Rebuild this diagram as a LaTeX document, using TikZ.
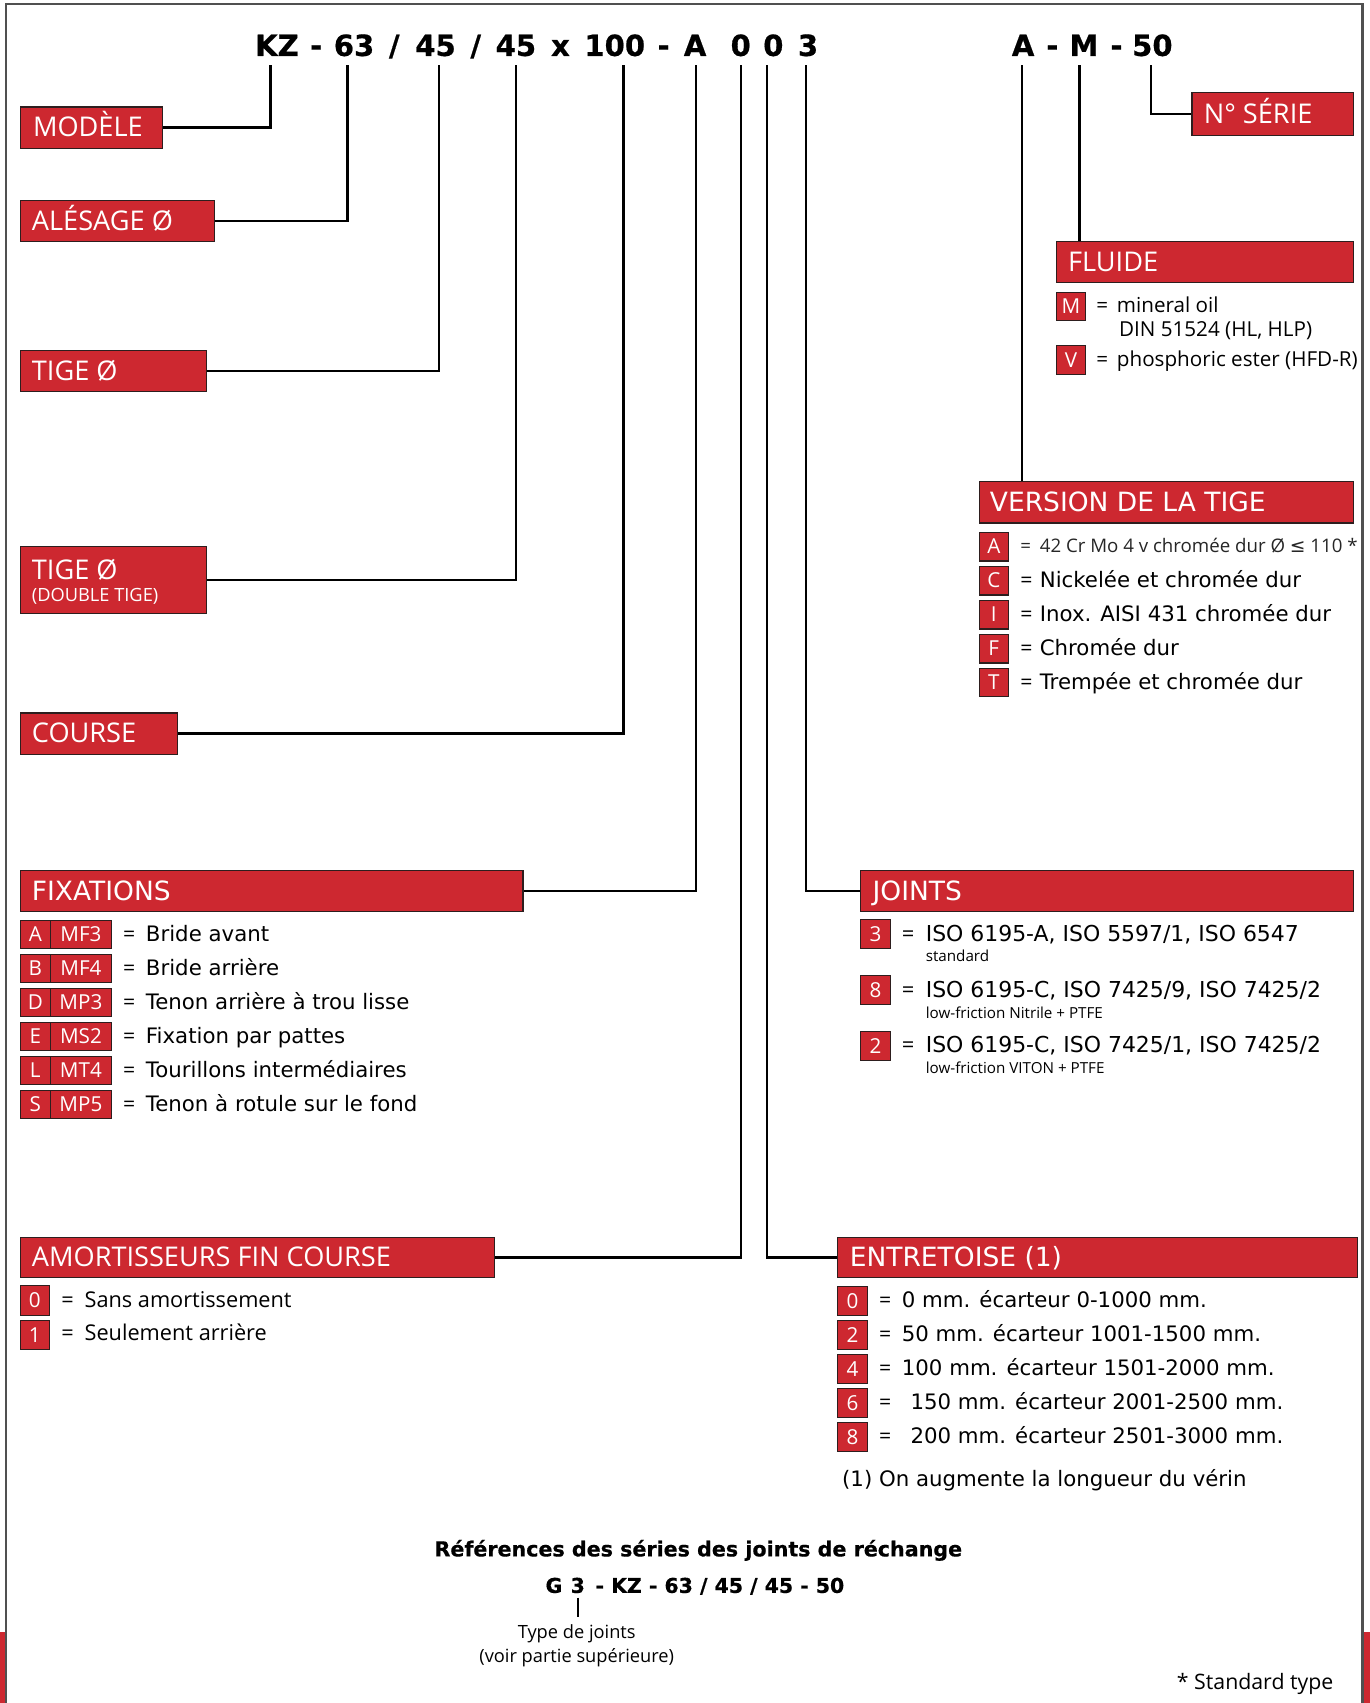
\documentclass[tikz,border=0pt]{standalone}
\usepackage{fontspec}
\setmainfont{Open Sans}
\newfontfamily\dvs{DejaVu Sans}
\newfontfamily\dvh{DejaVu Sans}[BoldFeatures={FakeBold=0.6}]
\definecolor{kred}{RGB}{205,40,48}
\definecolor{kline}{RGB}{45,30,30}
\definecolor{framec}{RGB}{80,80,80}
\newcommand\kfs[1]{\fontsize{#1}{#1}\selectfont}
\newcommand\eqw[1]{\makebox[#1][l]{\normalfont=}}
\begin{document}
\begin{tikzpicture}[x=0.5pt,y=-0.5pt,
  conn/.style={line width=1.1pt,draw=black},
  hbox/.style={draw=kline,line width=0.5pt,fill=kred,anchor=north west,inner sep=0pt},
  htxt/.style={anchor=base west,inner sep=0pt,text=white,font=\kfs{12.5pt}},
  htxe/.style={anchor=base west,inner sep=0pt,text=white,font=\dvs\kfs{12.2pt}},
  kbox/.style={draw=kline,line width=0.5pt,fill=kred,anchor=north west,inner sep=0pt,text=white,font=\kfs{9.5pt},minimum width=13.5pt,minimum height=13.25pt},
  etxt/.style={anchor=base west,inner sep=0pt,font=\dvs\kfs{9.8pt}},
  ftxt/.style={anchor=base west,inner sep=0pt,font=\kfs{9.5pt}},
  ttok/.style={anchor=base,inner sep=0pt,font=\dvh\bfseries\kfs{13.4pt}},
  gtok/.style={anchor=base,inner sep=0pt,font=\dvh\bfseries\kfs{9.4pt}},
  ntxt/.style={anchor=base,inner sep=0pt,font=\kfs{8.4pt}}]
\useasboundingbox (0,0) rectangle (1261,1568);
% frame
\fill[kred] (0,1503) rectangle (4.6,1568);
\fill[kred] (1255.6,1503) rectangle (1261,1568);
\draw[framec,line width=1.1pt] (5.6,1568) -- (5.6,3.6) -- (1254.4,3.6) -- (1254.4,1568);
% title tokens
\node[ttok] (tKZ) at (255,51.5) {KZ};
\node[ttok] (tD1) at (291,51.5) {-};
\node[ttok] (t63) at (326,51.5) {63};
\node[ttok] (tS1) at (363,51.5) {/};
\node[ttok] (t45a) at (401,51.5) {45};
\node[ttok] (tS2) at (438,51.5) {/};
\node[ttok] (t45b) at (475,51.5) {45};
\node[ttok] (tX) at (516,51.5) {x};
\node[ttok] (t100) at (566,51.5) {100};
\node[ttok] (tD2) at (611,51.5) {-};
\node[ttok] (tA) at (640,51.5) {A};
\node[ttok] (t0a) at (682,51.5) {0};
\node[ttok] (t0b) at (712,51.5) {0};
\node[ttok] (t3) at (744,51.5) {3};
\node[ttok] (vA) at (942,51.5) {A};
\node[ttok] (vD1) at (969,51.5) {-};
\node[ttok] (vM) at (998,51.5) {M};
\node[ttok] (vD2) at (1028,51.5) {-};
\node[ttok] (v50) at (1061,51.5) {50};
% connector start points
\coordinate (pKZ) at (249,60);
\coordinate (p63) at (320,60);
\coordinate (p45a) at (404,60);
\coordinate (p45b) at (475,60);
\coordinate (p100) at (574,60);
\coordinate (pA) at (641,60);
\coordinate (p0a) at (682,60);
\coordinate (p0b) at (706,60);
\coordinate (p3) at (742,60);
\coordinate (pvA) at (941,60);
\coordinate (pvM) at (994,60);
\coordinate (pv50) at (1060,60);
% heading boxes
\node[hbox,minimum width=65.5pt,minimum height=19pt] (modele) at (18,98) {};
\node[htxt] (modeleT) at (30,126) {MODÈLE};
\node[hbox,minimum width=89.5pt,minimum height=19pt] (alesage) at (18,184) {};
\node[htxt] (alesageT) at (29,212) {ALÉSAGE Ø};
\node[hbox,minimum width=86pt,minimum height=19pt] (tige1) at (18,322) {};
\node[htxt] (tige1T) at (29,350) {TIGE Ø};
\node[hbox,minimum width=86pt,minimum height=30.5pt] (tige2) at (18,503) {};
\node[htxt] (tige2T) at (29,534) {TIGE Ø};
\node[htxt,font=\kfs{8.4pt}] (tige2S) at (29,554) {(DOUBLE TIGE)};
\node[hbox,minimum width=72.5pt,minimum height=19pt] (course) at (18,656) {};
\node[htxt] (courseT) at (29,684) {COURSE};
\node[hbox,minimum width=231.5pt,minimum height=19pt] (fix) at (18,801) {};
\node[htxe] (fixT) at (29,829) {FIXATIONS};
\node[hbox,minimum width=218.5pt,minimum height=18.75pt] (amort) at (18,1138.5) {};
\node[htxt] (amortT) at (29,1166.5) {AMORTISSEURS FIN COURSE};
\node[hbox,minimum width=239pt,minimum height=18.75pt] (entre) at (771,1138.5) {};
\node[htxe] (entreT) at (782,1166.5) {ENTRETOISE (1)};
\node[hbox,minimum width=227pt,minimum height=19pt] (joints) at (792,801) {};
\node[htxe] (jointsT) at (803,829) {JOINTS};
\node[hbox,minimum width=74.5pt,minimum height=19.5pt] (serie) at (1097,85) {};
\node[htxt] (serieT) at (1108,113.5) {N° SÉRIE};
\node[hbox,minimum width=137pt,minimum height=19pt] (fluide) at (972,222) {};
\node[htxt] (fluideT) at (983,250) {FLUIDE};
\node[hbox,minimum width=172.5pt,minimum height=19pt] (version) at (901,443) {};
\node[htxe] (versionT) at (911,471) {VERSION DE LA TIGE};
% connectors
\draw[conn] (pKZ) |- (modele.east);
\draw[conn] (p63) |- (alesage.east);
\draw[conn] (p45a) |- (tige1.east);
\draw[conn] (p45b) |- (tige2.east);
\draw[conn] (p100) |- (course.east);
\draw[conn] (pA) |- (fix.east);
\draw[conn] (p0a) |- (amort.east);
\draw[conn] (p0b) |- (entre.west);
\draw[conn] (p3) |- (joints.west);
\draw[conn] (pv50) |- (serie.west);
\draw[conn] (pvM) -- (pvM |- fluide.north);
\draw[conn] (pvA) -- (pvA |- version.north);
% fluide
\node[kbox] (flM) at (972,268.5) {M};
\node[ftxt] (flMt) at (1009,288) {\eqw{9.5pt}mineral oil};
\node[ftxt] (flMt2) at (1030,310) {DIN 51524 (HL, HLP)};
\node[kbox] (flV) at (972,317.5) {V};
\node[ftxt] (flVt) at (1009,337.5) {\eqw{9.5pt}phosphoric ester (HFD-R)};
% version
\node[kbox] (veA) at (901,489.5) {A};
\node[anchor=base west,inner sep=0pt,font=\kfs{8.6pt},text=black!85] (veAt) at (939,509) {\eqw{9pt}42 Cr Mo 4 v chromée dur Ø {\dvs ≤} 110 *};
\foreach \i/\l/\t in {1/C/Nickelée et chromée dur,2/I/Inox. AISI 431 chromée dur,3/F/Chromée dur,4/T/Trempée et chromée dur}{
  \node[kbox] (ve\l) at (901,{489.5+31.3*\i}) {\l};
  \node[etxt] (ve\l t) at (939,{509.7+31.3*\i}) {\eqw{9pt}\t};
}
% fixations
\foreach \i/\l/\c/\t in {0/A/MF3/Bride avant,1/B/MF4/Bride arrière,2/D/MP3/Tenon arrière à trou lisse,3/E/MS2/Fixation par pattes,4/L/MT4/Tourillons intermédiaires,5/S/MP5/Tenon à rotule sur le fond}{
  \node[kbox,minimum width=14pt,minimum height=13pt] (fx\l) at (18,{847+31.3*\i}) {\l};
  \node[kbox,minimum width=28pt,minimum height=13pt] (fc\l) at (46,{847+31.3*\i}) {\c};
  \node[etxt] (ft\l) at (113,{867.2+31.3*\i}) {\eqw{10.5pt}\t};
}
% joints
\node[kbox] (jo3) at (792,846) {3};
\node[etxt,font=\dvs\kfs{10.1pt}] (jo3t) at (830,866.8) {\eqw{11pt}ISO 6195-A, ISO 5597/1, ISO 6547};
\node[anchor=base west,inner sep=0pt,font=\kfs{7pt}] (jo3s) at (852,885.2) {standard};
\node[kbox] (jo8) at (792,897.5) {8};
\node[etxt,font=\dvs\kfs{10.1pt}] (jo8t) at (830,918) {\eqw{11pt}ISO 6195-C, ISO 7425/9, ISO 7425/2};
\node[anchor=base west,inner sep=0pt,font=\kfs{7pt}] (jo8s) at (852,937.3) {low-friction Nitrile + PTFE};
\node[kbox] (jo2) at (792,949) {2};
\node[etxt,font=\dvs\kfs{10.1pt}] (jo2t) at (830,969.5) {\eqw{11pt}ISO 6195-C, ISO 7425/1, ISO 7425/2};
\node[anchor=base west,inner sep=0pt,font=\kfs{7pt}] (jo2s) at (852,988) {low-friction VITON + PTFE};
% amortisseurs
\node[kbox,minimum height=13.5pt] (am0) at (18,1183.5) {0};
\node[ftxt,font=\kfs{10pt}] (am0t) at (56,1203.4) {\eqw{10.75pt}Sans amortissement};
\node[kbox,minimum height=13.5pt] (am1) at (18,1215) {1};
\node[ftxt,font=\kfs{10pt}] (am1t) at (56,1234.5) {\eqw{10.75pt}Seulement arrière};
% entretoise
\foreach \i/\l/\t in {0/0/{\eqw{10.5pt}0 mm. écarteur 0-1000 mm.},1/2/{\eqw{10.5pt}50 mm. écarteur 1001-1500 mm.},2/4/{\eqw{10.5pt}100 mm. écarteur 1501-2000 mm.},3/6/{\eqw{14.5pt}150 mm. écarteur 2001-2500 mm.},4/8/{\eqw{14.5pt}200 mm. écarteur 2501-3000 mm.}}{
  \node[kbox,minimum height=13.5pt] (en\l) at (771,{1183.7+31.4*\i}) {\l};
  \node[etxt] (en\l t) at (809,{1203.4+31.4*\i}) {\t};
}
\node[etxt] (enNote) at (775,1368.5) {(1) On augmente la longueur du vérin};
% bottom
\node[anchor=base,inner sep=0pt,font=\dvh\bfseries\kfs{9.5pt}] (refT) at (643,1433) {Références des séries des joints de réchange};
\node[gtok] (gG) at (510,1466.6) {G};
\node[gtok] (g3) at (532,1466.6) {3};
\node[gtok,anchor=base west] (gRest) at (548,1466.6) {- KZ - 63 / 45 / 45 - 50};
\node[ntxt] (typ) at (531,1509) {Type de joints};
\node[ntxt] (typ2) at (531,1531) {(voir partie supérieure)};
\draw[line width=0.75pt,shorten <=1.8pt,shorten >=3.5pt] (g3.south) -- (g3.south |- typ.north);
\node[anchor=base east,inner sep=0pt,font=\kfs{9.8pt}] (std) at (1228,1556) {* Standard type};
\end{tikzpicture}
\end{document}
